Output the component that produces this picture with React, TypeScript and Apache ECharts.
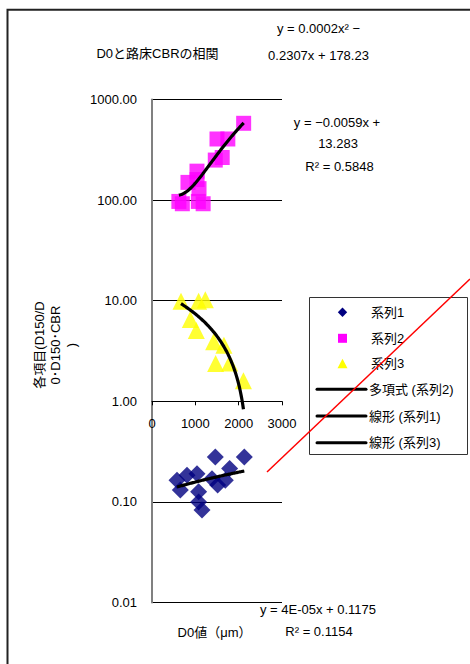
import React, { useEffect, useRef } from "react";
import * as echarts from "echarts";

const FONT = '"Liberation Sans", "Noto Sans CJK JP", sans-serif';

// 系列1: D150/D0 (diamonds)
const series1X = [577, 653, 808, 1038, 1076, 1076, 1154, 1385, 1461, 1515, 1692, 1791, 2130];
const series1Y = [0.164, 0.131, 0.184, 0.191, 0.126, 0.1, 0.083, 0.17, 0.28, 0.147, 0.164, 0.215, 0.28];

// 系列2: D150 (squares)
const series2X = [620, 700, 1070, 1180, 830, 1040, 1085, 1038, 1460, 1620, 1500, 1750, 2115];
const series2Y = [97, 92, 97, 92, 150, 160, 130, 194, 250, 265, 405, 405, 580];

// 系列3: 路床CBR (triangles)
const series3X = [669, 1076, 1230, 884, 1022, 1422, 1660, 1468, 1791, 2110];
const series3Y = [9.9, 9.9, 10.2, 6.5, 5.07, 3.9, 3.6, 2.37, 2.4, 1.6];

// Trendline coefficients as printed on the chart
const poly2 = { c2: 0.0002, c1: -0.2307, c0: 178.23 };
const lin1 = { slope: 4e-5, intercept: 0.1175 };
const lin3 = { slope: -0.0059, intercept: 13.283 };

const xTicks = [0, 1000, 2000, 3000];
const yTicks = [0.01, 0.1, 1, 10, 100, 1000];

const markerNames = ["系列1", "系列2", "系列3"];
const trendNames = ["多項式 (系列2)", "線形 (系列1)", "線形 (系列3)"];
const markerColors = ["#000080", "#FF00FF", "#FFFF00"];

const zip = (xs: number[], ys: number[]) => xs.map((x, i) => [x, ys[i]]);

function curve(fn: (x: number) => number, xs: number[], steps = 80) {
  const x0 = Math.min(...xs);
  const x1 = Math.max(...xs);
  const pts: number[][] = [];
  for (let i = 0; i <= steps; i++) {
    const x = x0 + ((x1 - x0) * i) / steps;
    pts.push([x, fn(x)]);
  }
  return pts;
}

const text = (t: string, x: number, y: number, extra: any = {}) => ({
  type: "text",
  x,
  y,
  silent: true,
  ...extra,
  style: {
    text: t,
    fill: "#000",
    fontSize: 13,
    fontFamily: FONT,
    align: "center",
    verticalAlign: "middle",
    ...(extra.style || {}),
  },
});

// Legend drawn as a framed block on the right of the plot
function legendGraphics() {
  const boxX = 309.5;
  const boxY = 297.5;
  const iconCx = 342.5;
  const textX = 371;
  const rowY = [312.3, 338.3, 363.8, 389.3, 416, 442.7];
  const els: any[] = [
    {
      type: "rect",
      silent: true,
      shape: { x: boxX, y: boxY, width: 158, height: 157 },
      style: { fill: "#fff", stroke: "#333", lineWidth: 1 },
      z: 8,
    },
  ];
  const h = 4.7;
  // 系列1 diamond
  els.push({
    type: "polygon",
    silent: true,
    shape: {
      points: [
        [iconCx, rowY[0] - h],
        [iconCx + h, rowY[0]],
        [iconCx, rowY[0] + h],
        [iconCx - h, rowY[0]],
      ],
    },
    style: { fill: markerColors[0] },
    z: 9,
  });
  // 系列2 square
  els.push({
    type: "rect",
    silent: true,
    shape: { x: iconCx - 4.5, y: rowY[1] - 4.5, width: 9, height: 9 },
    style: { fill: markerColors[1] },
    z: 9,
  });
  // 系列3 triangle
  els.push({
    type: "polygon",
    silent: true,
    shape: {
      points: [
        [iconCx, rowY[2] - 5],
        [iconCx + 5, rowY[2] + 4.5],
        [iconCx - 5, rowY[2] + 4.5],
      ],
    },
    style: { fill: markerColors[2] },
    z: 9,
  });
  markerNames.forEach((n, i) => {
    els.push(text(n, textX, rowY[i], { z: 9, style: { align: "left" } }));
  });
  trendNames.forEach((n, i) => {
    const y = rowY[3 + i];
    els.push({
      type: "line",
      silent: true,
      shape: { x1: 317, y1: y, x2: 366, y2: y },
      style: { stroke: "#000", lineWidth: 3, lineCap: "round" },
      z: 9,
    });
    els.push(text(n, textX - 2, y, { z: 9, style: { align: "left" } }));
  });
  return els;
}

export default function App() {
  const ref = useRef<HTMLDivElement>(null);

  useEffect(() => {
    const chart = echarts.init(ref.current!, null, { renderer: "svg" });
    const gridTop = 99.5;
    const gridHeight = 503;
    const decades = Math.log10(yTicks[yTicks.length - 1]) - Math.log10(yTicks[0]);
    const oneY = gridTop + gridHeight * (Math.log10(yTicks[yTicks.length - 1]) / decades);
    const xAxisOffset = -(gridTop + gridHeight - oneY);

    chart.setOption({
      animation: false,
      backgroundColor: "#fff",
      textStyle: { fontFamily: FONT },
      grid: { left: 152, top: gridTop, width: 130, height: gridHeight, containLabel: false },
      xAxis: {
        type: "value",
        min: xTicks[0],
        max: xTicks[xTicks.length - 1],
        interval: 1000,
        offset: xAxisOffset,
        axisLine: { show: true, onZero: false, lineStyle: { color: "#000", width: 1 } },
        axisTick: { show: true, inside: false, length: 4, lineStyle: { color: "#000" } },
        axisLabel: {
          color: "#000",
          fontSize: 13,
          fontFamily: FONT,
          margin: 16,
          formatter: (v: number) => String(Math.round(v)),
        },
        splitLine: { show: false },
      },
      yAxis: {
        type: "log",
        logBase: 10,
        min: yTicks[0],
        max: yTicks[yTicks.length - 1],
        axisLine: { show: true, onZero: false, lineStyle: { color: "#808080", width: 2 } },
        axisTick: { show: false },
        axisLabel: {
          color: "#000",
          fontSize: 13,
          fontFamily: FONT,
          margin: 15,
          formatter: (v: number) => Number(v).toFixed(2),
        },
        splitLine: { show: true, lineStyle: { color: "#000", width: 1 } },
      },
      series: [
        {
          name: markerNames[0],
          type: "scatter",
          symbol: "diamond",
          symbolSize: 17,
          itemStyle: { color: markerColors[0] },
          data: zip(series1X, series1Y),
          z: 2,
        },
        {
          name: markerNames[1],
          type: "scatter",
          symbol: "rect",
          symbolSize: 15,
          itemStyle: { color: markerColors[1] },
          data: zip(series2X, series2Y),
          z: 2,
        },
        {
          name: markerNames[2],
          type: "scatter",
          symbol: "triangle",
          symbolSize: 17,
          itemStyle: { color: markerColors[2] },
          data: zip(series3X, series3Y),
          z: 2,
        },
        {
          name: trendNames[0],
          type: "line",
          showSymbol: false,
          symbol: "none",
          lineStyle: { color: "#000", width: 3.2 },
          data: curve((x) => poly2.c2 * x * x + poly2.c1 * x + poly2.c0, series2X),
          z: 5,
        },
        {
          name: trendNames[1],
          type: "line",
          showSymbol: false,
          symbol: "none",
          lineStyle: { color: "#000", width: 3.2 },
          data: curve((x) => lin1.slope * x + lin1.intercept, series1X),
          z: 5,
        },
        {
          name: trendNames[2],
          type: "line",
          showSymbol: false,
          symbol: "none",
          lineStyle: { color: "#000", width: 3.2 },
          data: curve((x) => lin3.slope * x + lin3.intercept, series3X),
          z: 5,
        },
      ],
      graphic: [
        {
          type: "rect",
          silent: true,
          shape: { x: 7.5, y: 9.7, width: 560, height: 760 },
          style: { fill: "none", stroke: "#222", lineWidth: 2 },
        },
        ...legendGraphics(),
        {
          type: "line",
          silent: true,
          shape: { x1: 267, y1: 472, x2: 470, y2: 279 },
          style: { stroke: "#FF0000", lineWidth: 1.5 },
          z: 10,
        },
        text("D0と路床CBRの相関", 157.5, 53),
        text("y = 0.0002x² −", 318.5, 28),
        text("0.2307x + 178.23", 318.5, 55),
        text("y = −0.0059x +", 337, 122.5),
        text("13.283", 338, 143.5),
        text("R² = 0.5848", 339.5, 166.5),
        text("y = 4E-05x + 0.1175", 318, 609),
        text("R² = 0.1154", 319, 631.5),
        text("D0値（μm）", 214.5, 632.5),
        text("各項目(D150/D\n0･D150･CBR\n)", 55, 345, {
          rotation: Math.PI / 2,
          style: { lineHeight: 16 },
        }),
      ],
    });

    return () => chart.dispose();
  }, []);

  return (
    <div
      ref={ref}
      style={{ position: "absolute", left: 0, top: 0, width: 470, height: 664, background: "#fff" }}
    />
  );
}
